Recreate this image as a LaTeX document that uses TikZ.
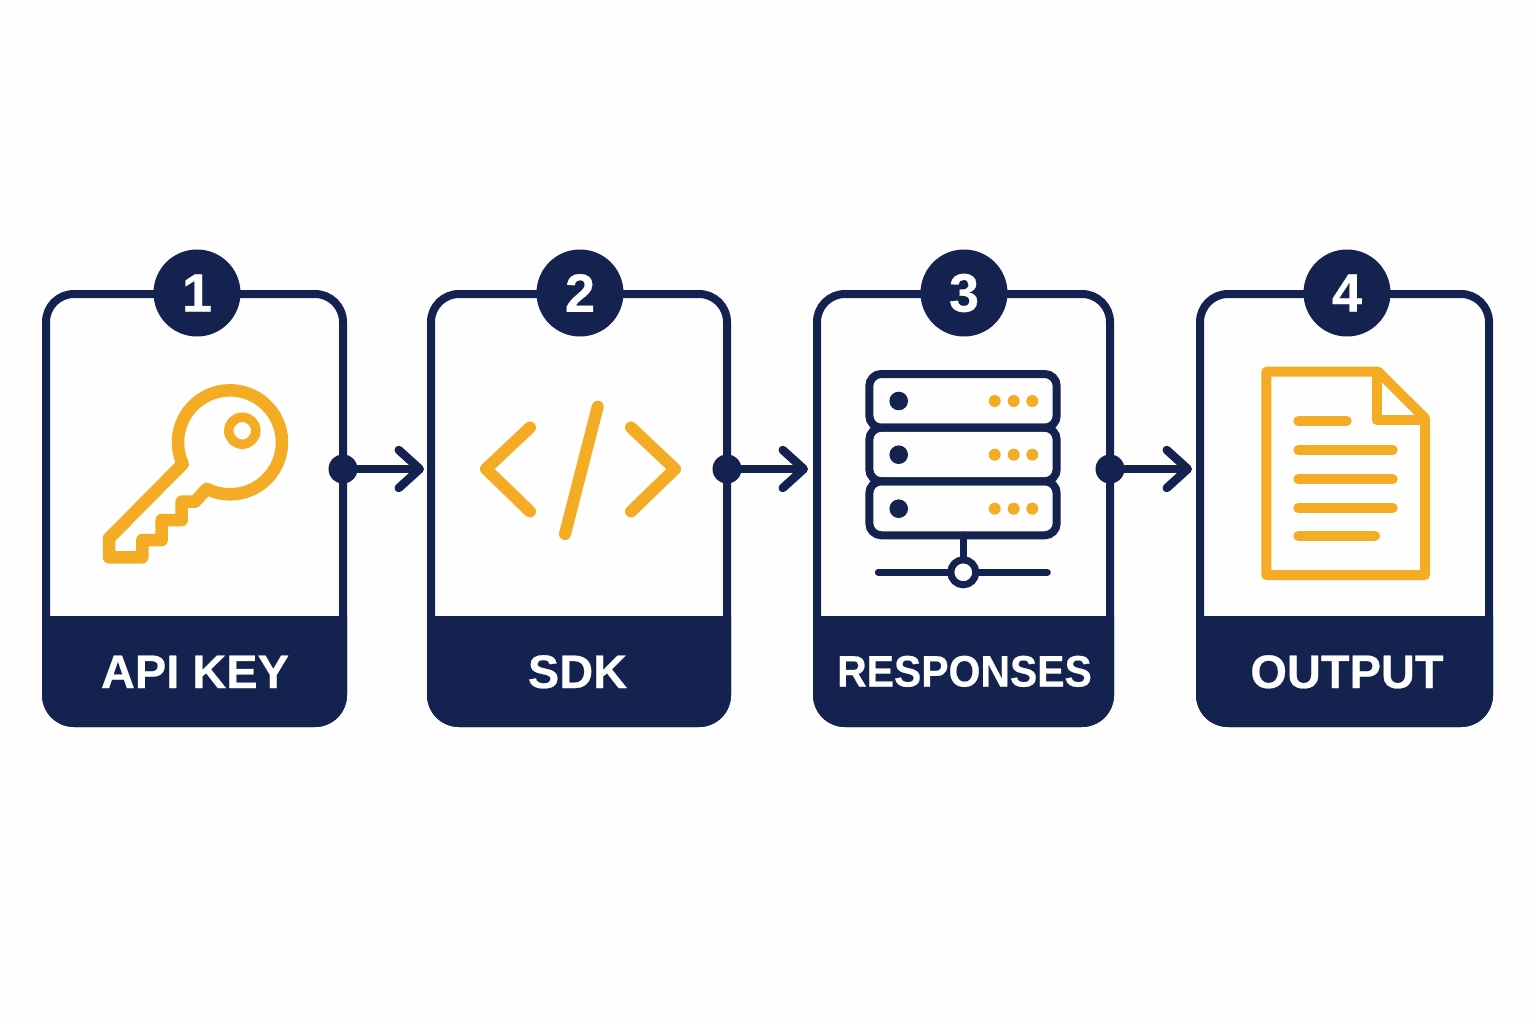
\documentclass[tikz,border=0pt]{standalone}
\usepackage{fontspec}
\setmainfont{Liberation Sans}[BoldFeatures={FakeBold=0.5}]
\usetikzlibrary{arrows.meta}
\definecolor{navy}{HTML}{14224F}
\definecolor{amber}{HTML}{F5AC25}
\definecolor{paper}{HTML}{FEFEFE}
\tikzset{
  card/.style={draw=navy,line width=8pt,rounded corners=28pt,minimum height=429pt,inner sep=0pt,outer sep=0pt},
  band/.style={fill=navy},
  badge/.style={circle,fill=navy,text=white,minimum size=87pt,inner sep=0pt,font=\bfseries\fontsize{54}{54}\selectfont},
  cardlabel/.style={text=white,inner sep=0pt,font=\bfseries\fontsize{47}{47}\selectfont},
  joint/.style={circle,fill=navy,minimum size=29pt,inner sep=0pt},
  flow/.style={draw=navy,line width=8.5pt,line cap=round,-{Straight Barb[length=21pt,width=38pt,round]}},
  amberline/.style={draw=amber,line width=#1,line cap=round,line join=round},
  amberline/.default=10pt,
  navyline/.style={draw=navy,line width=#1,line cap=round,line join=round},
  navyline/.default=8pt,
  rack/.style={draw=navy,line width=8pt,rounded corners=12pt},
}
\newcommand{\bandshape}[2]{%
  \fill[band] (#1,616) -- (#1,695) arc (180:90:32) -- ++(#2-64,0) arc (90:0:32) -- ++(0,-79) -- cycle;}
\begin{document}
\begin{tikzpicture}[x=1pt,y=1pt,yscale=-1]
\useasboundingbox[fill=paper] (0,0) rectangle (1536,1024);
% cards
\node[card,minimum width=297pt] (card1) at (194.5,508.5) {};
\node[card,minimum width=296pt] (card2) at (579,508.5) {};
\node[card,minimum width=293pt] (card3) at (963.5,508.5) {};
\node[card,minimum width=289pt] (card4) at (1344.5,508.5) {};
% bands
\bandshape{42}{305}
\bandshape{427}{304}
\bandshape{813}{301}
\bandshape{1196}{297}
\node[cardlabel,anchor=base] (label1) at (195,688) {API KEY};
\node[cardlabel,anchor=base] (label2) at (577.5,688) {SDK};
\node[cardlabel,anchor=base] (label3) at (964.5,686.5) {\fontsize{44}{44}\selectfont\scalebox{0.93}[1]{RESPONSES}};
\node[cardlabel,anchor=base] (label4) at (1347,688) {OUTPUT};
% badges
\node[badge] (badge1) at (197,293) {1};
\node[badge] (badge2) at (580,293) {2};
\node[badge] (badge3) at (964,293) {3};
\node[badge] (badge4) at (1347,293) {4};
% joints and connectors
\node[joint] (dot1) at (343,469) {};
\node[joint] (dot2) at (727,469) {};
\node[joint] (dot3) at (1110,469) {};
\draw[flow,shorten >=7pt] (dot1) -- (dot1 -| card2.west);
\draw[flow,shorten >=9pt] (dot2) -- (dot2 -| card3.west);
\draw[flow,shorten >=8pt] (dot3) -- (dot3 -| card4.west);
% key icon
\draw[amberline=12.5pt] (182.7,464) arc (155.4:476.6:52) -- (195,501.7) -- (181.7,501.7) -- (181.7,520) -- (161.7,520) -- (161.7,540) -- (142.3,540) -- (142.3,557.3) -- (109,557.3) -- (109,538.3) -- cycle;
\draw[amberline=9.5pt] (242.3,430.7) circle (13.5);
% code icon
\draw[amberline=12pt] (530,427.5) -- (486,469) -- (530,511.5);
\draw[amberline=12pt] (597.7,406.7) -- (565,534);
\draw[amberline=12pt] (631,427.5) -- (675,469) -- (631,511.5);
% server icon
\draw[rack] (869.3,374) rectangle (1056.7,427.7);
\draw[rack] (869.3,427.7) rectangle (1056.7,481.3);
\draw[rack] (869.3,481.3) rectangle (1056.7,535.3);
\foreach \yy in {401,454.7,508.7}{
  \fill[navy] (898.7,\yy) circle (9.3);
  \fill[amber] (994.7,\yy) circle (6);
  \fill[amber] (1013.7,\yy) circle (6);
  \fill[amber] (1032.3,\yy) circle (6);
}
\draw[navyline=7pt] (963.3,535) -- (963.3,560);
\draw[navyline=7pt] (878.3,572.3) -- (1047.3,572.3);
\draw[navy,line width=7pt,fill=white] (963.3,572.3) circle (12.5);
% document icon
\draw[amberline=10pt] (1266.3,371.7) -- (1378.3,371.7) -- (1425,418.3) -- (1425,575) -- (1266.3,575) -- cycle;
\draw[amberline=10pt] (1376.7,375) -- (1376.7,420) -- (1425,420);
\draw[amberline=10pt] (1298.3,421) -- (1346.7,421);
\draw[amberline=10pt] (1298.3,450) -- (1392.7,450);
\draw[amberline=10pt] (1298.3,479.3) -- (1392.7,479.3);
\draw[amberline=10pt] (1298.3,507.7) -- (1392.7,507.7);
\draw[amberline=10pt] (1298.3,535.7) -- (1375,535.7);
\end{tikzpicture}
\end{document}
